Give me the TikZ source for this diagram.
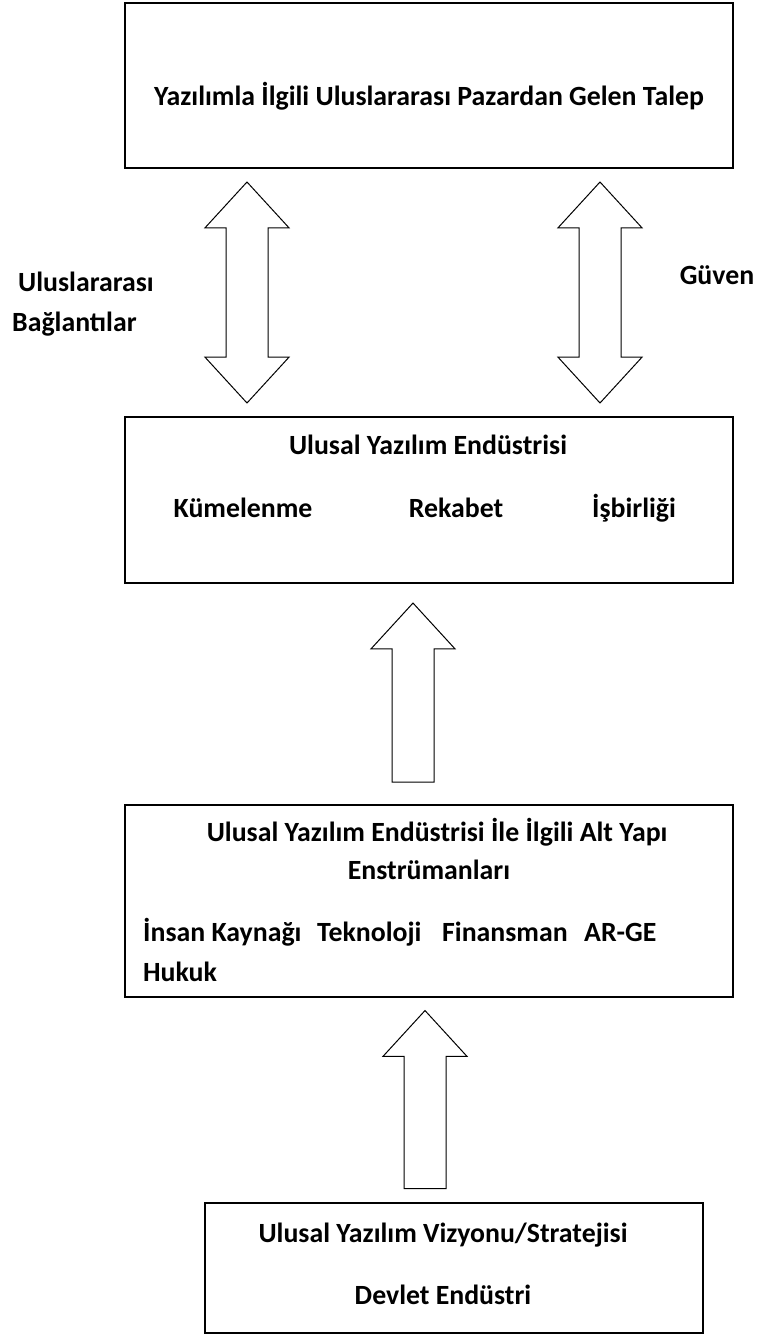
\documentclass[tikz,border=0pt]{standalone}
\usepackage{fontspec}
\setmainfont{Carlito}
\usetikzlibrary{shapes.arrows}

\tikzset{
  box/.style={draw, line width=1.4pt, inner sep=0pt, minimum width=608pt},
  lbl/.style={font=\bfseries\fontsize{27.8}{32}\selectfont, inner sep=0pt, anchor=base},
  uparrow/.style={draw, line width=1pt, single arrow, inner sep=20.5pt, rotate=90,
    single arrow head extend=21pt, single arrow tip angle=85, minimum width=83pt},
  bothways/.style={draw, line width=1pt, double arrow, inner sep=20.5pt, rotate=90,
    double arrow head extend=21pt, double arrow tip angle=85, minimum width=83pt}
}

\begin{document}
\begin{tikzpicture}[x=1pt,y=-1pt]
\useasboundingbox (0,0) rectangle (759,1337);

% boxes
\node[box, minimum height=165pt] (talep) at (429,85.5) {};
\node[box, minimum height=166pt] (endustri) at (429,500) {};
\node[box, minimum height=192pt] (altyapi) at (429,901) {};
\node[box, minimum width=498pt, minimum height=130pt] (vizyon) at (454,1268) {};

% arrows
\node[bothways, minimum height=221pt] (baglar) at (247,292.5) {};
\node[bothways, minimum height=221pt] (guvenok) at (600,292.5) {};
\node[uparrow, minimum height=179pt] (yukari1) at (413,704) {};
\node[uparrow, minimum height=178pt] (yukari2) at (425,1111) {};

% texts
\node[lbl] (talepyazi) at (429,106) {Yazılımla İlgili Uluslararası Pazardan Gelen Talep};
\node[lbl, anchor=base west] (ulus) at (18,291) {Uluslararası};
\node[lbl, anchor=base west] (bag) at (12,331) {Bağlantılar};
\node[lbl] (guven) at (717,284) {Güven};

\node[lbl] (endbaslik) at (428,454) {Ulusal Yazılım Endüstrisi};
\node[lbl] (kume) at (243,517) {Kümelenme};
\node[lbl] (rekabet) at (456,517) {Rekabet};
\node[lbl] (isbirligi) at (634,517) {İşbirliği};

\node[lbl] (altbaslik) at (437,841) {Ulusal Yazılım Endüstrisi İle İlgili Alt Yapı};
\node[lbl] (enstr) at (429,879) {Enstrümanları};
\node[lbl, anchor=base west] (insan) at (143,941) {İnsan Kaynağı};
\node[lbl, anchor=base west] (tekno) at (317,941) {Teknoloji};
\node[lbl, anchor=base west] (finans) at (442,941) {Finansman};
\node[lbl, anchor=base west] (arge) at (584,941) {AR-GE};
\node[lbl, anchor=base west] (hukuk) at (143,981) {Hukuk};

\node[lbl] (vizbaslik) at (443,1242) {Ulusal Yazılım Vizyonu/Stratejisi};
\node[lbl] (devlet) at (443,1304) {Devlet Endüstri};
\end{tikzpicture}
\end{document}
